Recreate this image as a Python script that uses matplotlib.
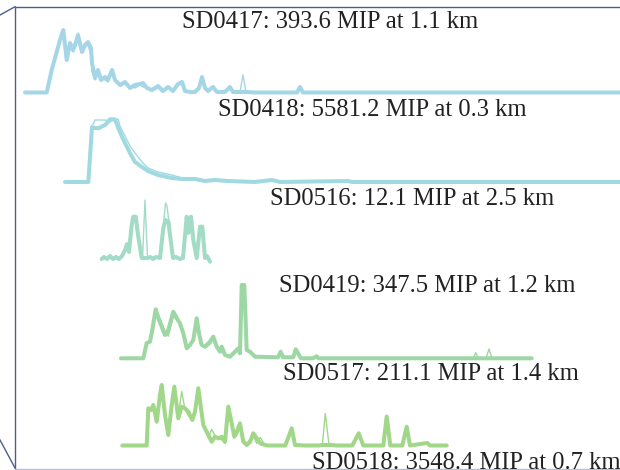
import matplotlib
matplotlib.use("Agg")
import matplotlib.pyplot as plt
import numpy as np

# Station traces: vertex times (bins from trace start), thick (PMT A)
# and thin (PMT B) amplitudes above baseline.
t_0417 = [0, 21.7, 26.7, 31.7, 35, 38.3, 41.7, 45, 48, 51, 53, 57, 60, 63, 66, 67, 70, 73, 76, 80,
          83, 87, 90, 95, 100, 105, 110, 115, 118, 122, 127, 133, 138, 143, 148, 153, 157, 160, 165,
          170, 174, 177, 180, 183, 188, 192, 200, 205, 208, 215, 218, 221, 230, 272, 275, 278, 595]
a_0417 = [0, 0, 22.5, 40.5, 52.5, 62.5, 32.5, 49.5, 42.5, 50.5, 57.5, 40.5, 47.5, 50.5, 44.5, 29.5,
          14.5, 22.5, 12.5, 15.5, 12.5, 22.5, 12.5, 7.5, 10.5, 4.5, 7.5, 8.5, 9.5, 4.5, 2.5, 6.5, 1.5,
          5.5, 1.5, 8.5, 10.5, 1.5, 0.5, 0.5, 4.5, 15.5, 4.5, 1.5, 5.5, 0.5, 0.5, 5.5, 0.5, 0.5, 0.5,
          0.5, 0, 0, 5.5, 0, 0]
b_0417 = [0, 0, 20.5, 42.5, 54.5, 60.5, 44.5, 48.5, 40.5, 46.5, 59.5, 44.5, 45.5, 47.5, 37.5, 20.5,
          12.5, 18.5, 14.5, 12.5, 10.5, 20.5, 12.5, 6.5, 8.5, 6.5, 4.5, 7.5, 5.5, 4.5, 1.5, 4.5, 0.5,
          4.5, 1.5, 7.5, 8.5, 0.5, 0.5, 0.5, 3.5, 13.5, 4.5, 2.5, 4.5, 0.5, 0.5, 4.5, 0.5, 0.5, 17.5,
          0.5, 0, 0, 5.5, 0, 0]

t_0418 = [0, 23.3, 27, 30, 33, 35, 40, 41.7, 45, 50, 53.3, 55, 57.7, 60, 65, 70, 77, 83, 93, 107, 117,
          130, 140, 150, 163, 190, 207, 215, 283, 287, 555]
a_0418 = [0, 0, 54.7, 54, 53.7, 54.5, 57, 58.7, 62.7, 62.7, 53.7, 50, 43.7, 39, 29, 20, 15, 11, 7, 4,
          3, 3, 1, 2, 1, 0, 2, 0, 1, 0, 0]
b_0418 = [0, 0, 56, 62, 62, 62, 62, 61.5, 60, 62.5, 62.7, 56, 50.3, 46, 36, 29, 20, 14, 10, 7, 4, 3,
          2, 1, 1, 0, 2, 0, 1, 0, 0]

t_0516 = [0, 2.3, 5.3, 8.3, 11.3, 14.3, 17.3, 20.3, 23.3, 25.3, 27.3, 30, 31.6, 34, 36.6, 40, 40.8,
          43.3, 45.8, 48.3, 51.3, 54.3, 58.3, 61.6, 63.8, 65.3, 66.8, 68.3, 71.3, 74.3, 78.3, 81.3, 85,
          86.6, 89.3, 91.6, 95, 98.3, 100.6, 103.3, 105.3, 108.3]
a_0516 = [0, 2, 0, 3, 0, 2, 0, 3, 9, 15, 7, 34, 42.3, 42.3, 22.3, 1, 1, 1, 1, 2, 0, 2, 1, 31, 39, 38,
          37, 24, 1, 2, 0, 1, 42.3, 26, 42.3, 19, 1, 32.3, 32.3, 1, 3, -2.7]
b_0516 = [0, 1, 0, 2, 0, 3, 0, 2, 7, 12, 11, 31, 41, 41, 19, 1, 1, 59, 1, 1, 2, 1, 1, 33, 56, 53, 41,
          27, 2, 1, 0, 1, 41, 29, 41, 23, 3, 29, 31, 5, 1, -1]

t_0419 = [0, 22.3, 25.7, 29, 31.3, 34.7, 37.3, 40.7, 44, 47.3, 52.3, 55.7, 59, 62.3, 65.7, 69, 72.3,
          75.7, 78, 80.7, 84, 89, 92.3, 95.7, 99, 100.7, 104, 109, 114, 117.3, 119, 120.7, 123.3, 125.7,
          129, 134, 157, 159.7, 162, 172.3, 174.7, 180, 192, 195.7, 197.3, 200, 352, 354.7, 357.3, 365,
          368, 371, 410.7]
a_0419 = [0, 0, 15.3, 16.6, 28.3, 49, 40.3, 31.6, 23.3, 28.3, 46.6, 40, 35, 25, 10, 13.3, 18.3, 40,
          25, 13.3, 11.6, 16.6, 21.6, 11.6, 6.6, 11.6, 3.3, 1.6, 6.6, 10, 5, 73.3, 73.3, 8.3, 6.6, 1.6,
          1, 6.6, 1, 1, 9, 0, 0, 2, 0, 0, 0, 0, 0, 0, 0, 0, 0]
b_0419 = [0, 0, 13, 18, 25, 45, 44, 36, 27, 22, 42, 43, 33, 27, 14, 12, 20, 36, 29, 15, 10, 14, 19,
          14, 8, 9, 4, 2, 5, 8, 6, 68, 68, 10, 5, 2, 1, 5, 1, 1, 7, 0, 0, 2, 0, 0, 0, 5.6, 0, 0, 9.3,
          0, 0]

t_0517 = [0, 24.4, 26, 28.7, 31, 34.4, 37.7, 39.4, 42.7, 46, 49.4, 52, 56, 59.4, 62.7, 66, 70, 72.7,
          76, 78.7, 81, 86, 89.4, 92.7, 96, 99.4, 102.7, 106, 109.4, 112, 114.4, 117.7, 121, 124.4,
          127.7, 131, 134.4, 138, 142.7, 146, 159.4, 163, 169.4, 172.7, 182.7, 196.4, 200, 203,
          206.7, 210, 214, 230, 236.4, 241, 246, 251, 261, 264.4, 268, 280, 284.4, 287.7, 305, 307.7,
          310, 324.4]
a_0517 = [0, 0, 37.2, 35.5, 40.5, 23.8, 50.5, 60.5, 30.5, 10.5, 40.5, 58.8, 27.2, 38.8, 37.2, 33.8,
          25.5, 33.8, 57.2, 37.2, 20.5, 10.5, 3.8, 8.8, 7.2, 8.8, 3.8, 38.8, 22.2, 8.8, 13.8, 22.2, 3.8,
          0.5, 3.5, 12.2, 7.2, 2.2, 0.5, 0, 0, 0, 17.2, 0.5, 0, 0, 0.5, 0.5, 0.5, 0.5, 0, 0, 12.2, 0,
          0, 0, 0, 29, 0, 0, 18.8, 0, 2.5, 0, 0, 0]
b_0517 = [0, 0, 35, 37, 38, 28, 45, 55, 36, 14, 36, 52, 30, 54, 36, 30, 27, 36, 50, 34, 19, 8, 16,
          10, 6, 6, 2, 33, 19, 12, 10, 18, 6, 2, 6, 10, 2, 8, 0.5, 0, 0, 0, 15, 0.5, 0, 0, 0.5, 32,
          0.5, 0.5, 0, 0, 10, 0, 0, 0, 0, 27, 0, 0, 17, 0, 2, 0, 0, 0]

stations = ["SD0417", "SD0418", "SD0516", "SD0419", "SD0517", "SD0518"]
signals_mip = [393.6, 5581.2, 12.1, 347.5, 211.1, 3548.4]
distances_km = [1.1, 0.3, 2.5, 1.2, 1.4, 0.7]

traces = [(t_0417, a_0417, b_0417), (t_0418, a_0418, b_0418), (t_0516, a_0516, b_0516),
          (t_0419, a_0419, b_0419), (t_0517, a_0517, b_0517)]

# Staggered layout of the waterfall (start x, baseline y, label x, label baseline y)
trace_start = [25, 65, 101.7, 121, 122.3]
trace_base = [92.5, 182, 259, 358.3, 445.5]
label_x = [182, 218, 270, 279, 283, 312]
label_y = [27.5, 116.5, 205, 291.5, 380, 469]
colors = ["#a5d6e8", "#a0dae0", "#a2dbc6", "#9dd7a4", "#a0d789"]

fig = plt.figure(figsize=(6.2, 4.7), dpi=100)
ax = fig.add_axes([0, 0, 1, 1])
ax.set_xlim(0, 620)
ax.set_ylim(470, 0)
ax.axis("off")

# box edges of the perspective frame
frame = "#4f5d8e"
ax.plot([15, 620], [6.7, 6.7], color=frame, lw=1.0, solid_capstyle="butt")
ax.plot([15, 15], [6.7, 468], color=frame, lw=1.0)
ax.plot([0, 15], [15, 6.7], color=frame, lw=1.0)
ax.plot([0, 15], [440, 468], color=frame, lw=1.0)
ax.plot([15, 620], [469, 469], color="#b9c0d6", lw=1.0)

for (t, a, b), x0, y0, c in zip(traces, trace_start, trace_base, colors):
    x = x0 + np.asarray(t, dtype=float)
    ax.plot(x, y0 - np.asarray(b, dtype=float), color=c, lw=1.0, solid_joinstyle="round")
    ax.plot(x, y0 - np.asarray(a, dtype=float), color=c, lw=2.9, solid_joinstyle="round",
            solid_capstyle="round")

for name, s, d, lx, ly in zip(stations, signals_mip, distances_km, label_x, label_y):
    ax.text(lx, ly, f"{name}: {s:.1f} MIP at {d:.1f} km", family="Liberation Serif",
            fontsize=17.7, color="#222222", ha="left", va="baseline", clip_on=False)

fig.savefig("out.png", dpi=100)
